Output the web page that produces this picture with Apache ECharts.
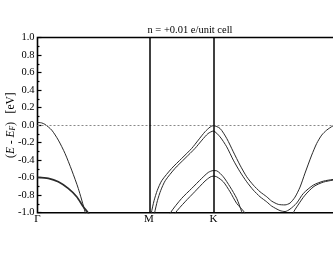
<!DOCTYPE html>
<html>
<head>
<meta charset="utf-8">
<script src="https://cdn.jsdelivr.net/npm/echarts@6/dist/echarts.min.js"></script>
<style>html,body{margin:0;padding:0;background:#fff}#c{width:333px;height:258px}</style>
</head>
<body>
<div id="c"></div>
<script>
// High-symmetry points (k-path positions) and labels
const kPoints = [0, 0.577, 0.911, 1.577];
const kLabels = ['Γ', 'M', 'K', 'Γ'];
const yTicks = [-1.0, -0.8, -0.6, -0.4, -0.2, 0.0, 0.2, 0.4, 0.6, 0.8, 1.0];
const titleText = 'n = +0.01 e/unit cell';

// Bands as [k, E - E_F] pairs
const gammaTop = [[0,0.031],[0.02,0.026],[0.039,0.008],[0.0735,-0.057],[0.1077,-0.171],[0.1423,-0.323],[0.177,-0.514],[0.211,-0.723],[0.2459,-0.99],[0.25,-1.05]];
const gammaLow = [[0,-0.597],[0.056,-0.608],[0.1077,-0.647],[0.159,-0.723],[0.203,-0.818],[0.237,-0.933],[0.263,-1.005],[0.268,-1.05]];
const bandA = [[0.584,-1.08],[0.5885,-1.008],[0.6036,-0.86],[0.620,-0.745],[0.6429,-0.635],[0.6946,-0.494],[0.7464,-0.380],[0.7981,-0.266],[0.8323,-0.171],[0.867,-0.076],[0.893,-0.023],[0.910,-0.006],[0.9446,-0.038],[0.9793,-0.152],[1.0135,-0.305],[1.0481,-0.457],[1.0828,-0.590],[1.117,-0.685],[1.1517,-0.761],[1.1863,-0.818],[1.2122,-0.868],[1.2464,-0.905],[1.2811,-0.911],[1.3069,-0.890],[1.3328,-0.822],[1.3587,-0.708],[1.3846,-0.548],[1.4193,-0.342],[1.4451,-0.209],[1.471,-0.114],[1.4969,-0.057],[1.5295,-0.008],[1.555,0.02],[1.577,0.03]];
const bandB = [[0.601,-1.08],[0.6055,-1.008],[0.621,-0.86],[0.638,-0.745],[0.661,-0.635],[0.7117,-0.494],[0.7635,-0.380],[0.8152,-0.266],[0.8515,-0.171],[0.8825,-0.097],[0.910,-0.068],[0.9446,-0.134],[0.9793,-0.248],[1.0135,-0.400],[1.0481,-0.533],[1.0828,-0.647],[1.117,-0.742],[1.1517,-0.818],[1.1863,-0.876],[1.2122,-0.925],[1.2552,-0.976],[1.2811,-0.987],[1.3069,-0.959],[1.3415,-0.89],[1.3758,-0.78],[1.4275,-0.685],[1.479,-0.64],[1.5295,-0.62],[1.577,-0.6]];
const bandC = [[0.675,-1.1],[0.686,-1.008],[0.746,-0.837],[0.798,-0.723],[0.850,-0.608],[0.884,-0.54],[0.910,-0.519],[0.9276,-0.522],[0.9617,-0.590],[0.9964,-0.704],[1.031,-0.837],[1.057,-0.990],[1.065,-1.05]];
const bandD = [[0.70,-1.1],[0.712,-1.008],[0.7635,-0.876],[0.815,-0.758],[0.867,-0.639],[0.893,-0.594],[0.910,-0.582],[0.9276,-0.590],[0.9617,-0.647],[0.9964,-0.761],[1.031,-0.894],[1.069,-0.99],[1.08,-1.05]];
const bandE = [[1.318,-1.1],[1.3224,-1.008],[1.3483,-0.913],[1.3845,-0.80],[1.431,-0.70],[1.4793,-0.651],[1.5295,-0.628],[1.577,-0.61]];

const serif = 'Liberation Serif, Times New Roman, serif';
const chart = echarts.init(document.getElementById('c'), null, {renderer: 'canvas'});

function band(data, w) {
  return {
    type: 'line', data: data, showSymbol: false, smooth: 0.25, clip: true,
    lineStyle: {color: '#2a2a2a', width: w || 1}, silent: true, animation: false
  };
}

const series = [
  band(gammaTop), band(gammaLow, 1.7), band(bandA), band(bandB), band(bandC), band(bandD), band(bandE)
];
series.push({
  type: 'line', data: [], silent: true, animation: false,
  markLine: {
    symbol: 'none', silent: true, animation: false, label: {show: false},
    data: [
      {yAxis: 0, lineStyle: {type: [2, 2], color: '#888', width: 1}},
      {xAxis: kPoints[1], lineStyle: {type: 'solid', color: '#000', width: 1.5}},
      {xAxis: kPoints[2], lineStyle: {type: 'solid', color: '#000', width: 1.5}}
    ]
  }
});

chart.setOption({
  animation: false,
  backgroundColor: '#fff',
  title: {
    text: titleText, left: 190, top: 25, textAlign: 'center', padding: 0,
    textStyle: {fontFamily: serif, fontSize: 10.5, fontWeight: 'normal', color: '#000'}
  },
  grid: {
    left: 37.5, top: 37.5, bottom: 45.3, right: -9.2,
    containLabel: false, outerBoundsMode: 'none',
    show: true, borderColor: '#000', borderWidth: 1.6, backgroundColor: 'transparent'
  },
  xAxis: {
    type: 'value', min: kPoints[0], max: kPoints[3],
    axisLine: {show: false}, axisTick: {show: false}, splitLine: {show: false},
    axisLabel: {
      customValues: kPoints.slice(0, 3), margin: 1,
      fontFamily: serif, fontSize: 11, color: '#000',
      formatter: function (v) { const i = kPoints.findIndex(p => Math.abs(p - v) < 1e-6); return i >= 0 ? kLabels[i] : ''; }
    }
  },
  yAxis: {
    type: 'value', min: -1, max: 1, interval: 0.2,
    axisLine: {show: false},
    axisTick: {show: true, inside: true, length: 4, lineStyle: {color: '#000', width: 1.2}},
    minorTick: {show: true, splitNumber: 2, length: 2, lineStyle: {color: '#000', width: 1.2}},
    splitLine: {show: false},
    axisLabel: {
      customValues: yTicks, margin: 3, fontFamily: serif, fontSize: 10.5, color: '#000',
      formatter: function (v) { return v.toFixed(1); }
    },
    name: '({i|E} - {i|E}{sub|F})   [eV]',
    nameLocation: 'middle', nameGap: 20, nameRotate: 90, nameMoveOverlap: false,
    nameTextStyle: {
      fontFamily: serif, fontSize: 11.5, color: '#000',
      rich: {
        i: {fontFamily: serif, fontSize: 11.5, fontStyle: 'italic', color: '#000'},
        sub: {fontFamily: serif, fontSize: 7.5, fontStyle: 'italic', color: '#000', padding: [6, 0, 0, 0]}
      }
    }
  },
  series: series
});
</script>
</body>
</html>
